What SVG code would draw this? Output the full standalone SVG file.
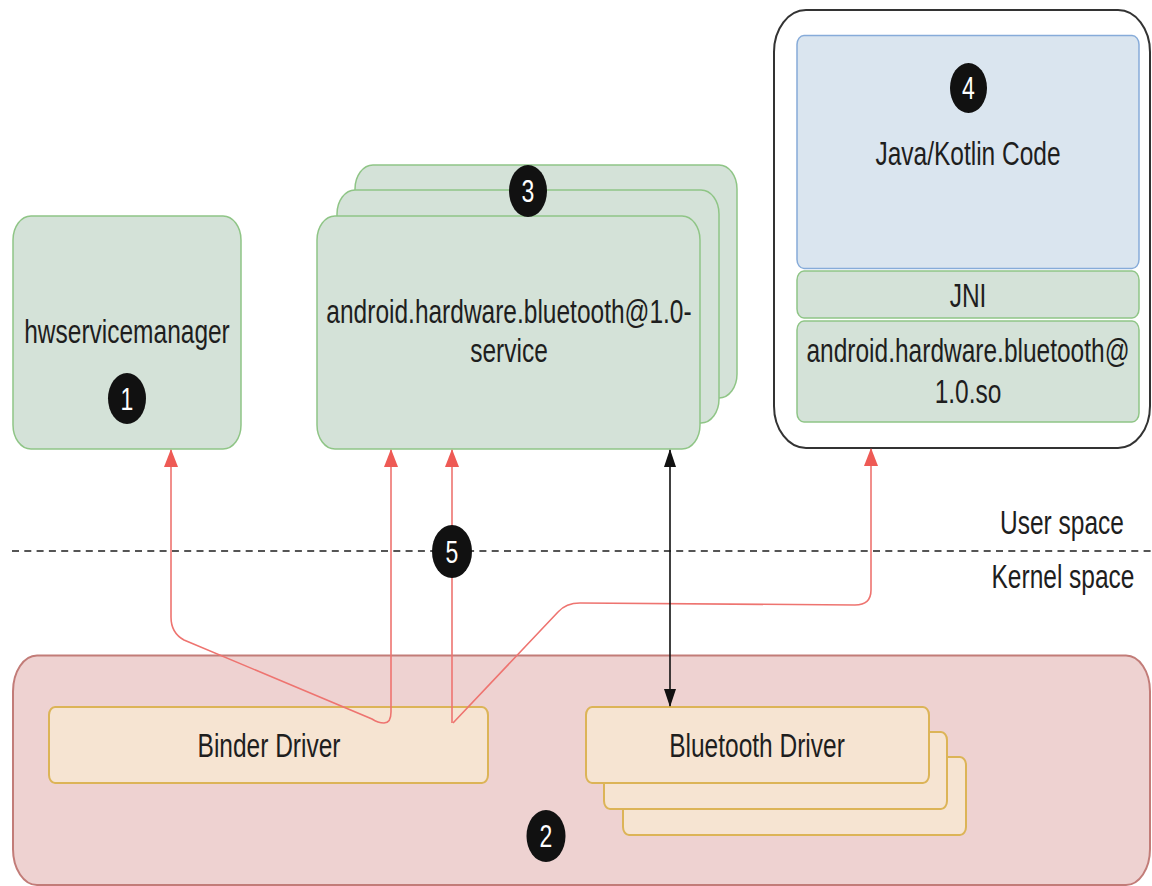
<svg xmlns="http://www.w3.org/2000/svg" width="1152" height="886" viewBox="0 0 1152 886">
<defs>
<style>
.t{font-family:"Liberation Sans",Arial,Helvetica,sans-serif;font-size:24.5px;fill:#1e1e1e;text-anchor:middle}
.d{font-family:"Liberation Sans",Arial,Helvetica,sans-serif;font-size:23px;fill:#ffffff;text-anchor:middle}
.g{fill:#d4e2d8;stroke:#8fc586;stroke-width:1.5}
.o{fill:#f6e4d2;stroke:#dcb457;stroke-width:2}
.b{fill:#111111}
.r{fill:none;stroke:#ee7470;stroke-width:1.6}
</style>
<marker id="ar" viewBox="0 0 18 14" refX="17" refY="7" markerWidth="18" markerHeight="14" markerUnits="userSpaceOnUse" orient="auto-start-reverse">
<path d="M0,0 L18,7 L0,14 Z" fill="#ee5a55"/>
</marker>
<marker id="ak" viewBox="0 0 18 12" refX="17" refY="6" markerWidth="18" markerHeight="12" markerUnits="userSpaceOnUse" orient="auto-start-reverse">
<path d="M0,0 L18,6 L0,12 Z" fill="#111"/>
</marker>
</defs>
<rect width="1152" height="886" fill="#ffffff"/>

<g id="kernel">
<rect x="13" y="655.5" width="1137" height="229.5" rx="24" ry="36" fill="#eed2d1" stroke="#c27c78" stroke-width="2"/>
<ellipse class="b" cx="546" cy="836" rx="19.5" ry="26"/>
<text class="d" transform="translate(546 847) scale(1 1.35)">2</text>
</g>

<g id="binder">
<rect class="o" x="49" y="707" width="439" height="76" rx="6" ry="8"/>
<text class="t" transform="translate(269 757) scale(1 1.35)">Binder Driver</text>
</g>

<g id="bluetooth-driver">
<rect class="o" x="623" y="757" width="343" height="78" rx="6" ry="8"/>
<rect class="o" x="604" y="732" width="343" height="77" rx="6" ry="8"/>
<rect class="o" x="586" y="707" width="343" height="76" rx="6" ry="8"/>
<text class="t" transform="translate(757 757) scale(1 1.35)">Bluetooth Driver</text>
</g>

<g id="hwservicemanager">
<rect class="g" x="13" y="216" width="228" height="233" rx="18" ry="24"/>
<text class="t" transform="translate(127 343) scale(1 1.35)">hwservicemanager</text>
<ellipse class="b" cx="127" cy="398.5" rx="19" ry="25.5"/>
<text class="d" transform="translate(127 409.5) scale(1 1.35)">1</text>
</g>

<g id="bt-service">
<rect class="g" x="355" y="165" width="382" height="233" rx="18" ry="24"/>
<rect class="g" x="337" y="190" width="382" height="233" rx="18" ry="24"/>
<rect class="g" x="317" y="216" width="383" height="233" rx="18" ry="24"/>
<text class="t" transform="translate(509 323) scale(1 1.35)">android.hardware.bluetooth@1.0-</text>
<text class="t" transform="translate(509 362) scale(1 1.35)">service</text>
<ellipse class="b" cx="528" cy="191" rx="19" ry="26"/>
<text class="d" transform="translate(528 202) scale(1 1.35)">3</text>
</g>

<g id="app">
<rect x="774" y="10" width="376" height="438" rx="32" ry="42" fill="#ffffff" stroke="#333333" stroke-width="2"/>
<rect x="797" y="35.5" width="342" height="233" rx="7" ry="9" fill="#dae5ef" stroke="#86abd9" stroke-width="1.5"/>
<ellipse class="b" cx="968.5" cy="88" rx="18.5" ry="25"/>
<text class="d" transform="translate(968.5 99) scale(1 1.35)">4</text>
<text class="t" transform="translate(968 165) scale(1 1.35)">Java/Kotlin Code</text>
<rect class="g" x="797" y="271" width="342" height="47" rx="7" ry="9"/>
<text class="t" transform="translate(968 307) scale(1 1.35)">JNI</text>
<rect class="g" x="797" y="321" width="342" height="101" rx="7" ry="9"/>
<text class="t" transform="translate(968 362) scale(1 1.35)">android.hardware.bluetooth@</text>
<text class="t" transform="translate(968 403) scale(1 1.35)">1.0.so</text>
</g>

<g id="spaces">
<line x1="12" y1="551" x2="1152" y2="551" stroke="#555555" stroke-width="2.2" stroke-dasharray="7 5.3"/>
<text class="t" transform="translate(1062 534) scale(1 1.35)">User space</text>
<text class="t" transform="translate(1063 588) scale(1 1.35)">Kernel space</text>
</g>

<g id="connectors">
<path class="r" d="M384,723 Q378,723 372,719 L184,640 Q171,633 171,617 L171,450" marker-end="url(#ar)"/>
<path class="r" d="M384,723 Q391,723 391,712 L391,450" marker-end="url(#ar)"/>
<path class="r" d="M452,723 L452,450" marker-end="url(#ar)"/>
<path class="r" d="M453,723 L558,612 Q566,603 580,603 L855,605 Q871,605 871,590 L871,449" marker-end="url(#ar)"/>
<line x1="670" y1="450" x2="670" y2="706" stroke="#111" stroke-width="1.6" marker-start="url(#ak)" marker-end="url(#ak)"/>
</g>

<g id="badge5">
<ellipse class="b" cx="452" cy="551.5" rx="20" ry="26.5"/>
<text class="d" transform="translate(452 562.5) scale(1 1.35)">5</text>
</g>
</svg>
